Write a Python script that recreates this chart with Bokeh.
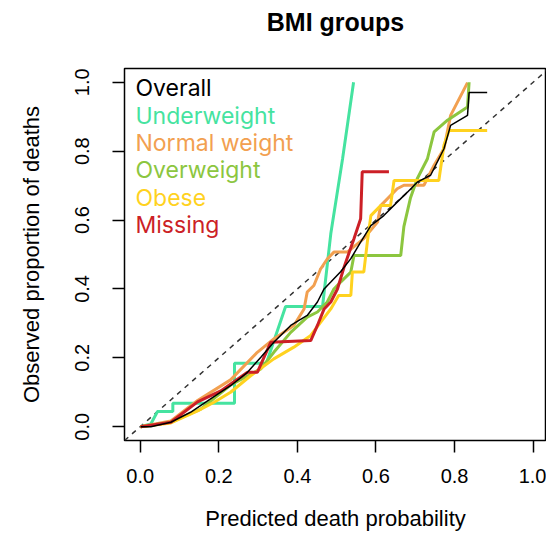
from bokeh.plotting import figure
from bokeh.models import Range1d, FixedTicker, Label, LinearAxis
from bokeh.embed import file_html
from bokeh.resources import INLINE

# ---- data (predicted probability, observed proportion) ----
groups = ["Overall", "Underweight", "Normal weight", "Overweight", "Obese", "Missing"]

overall_x = [0.001, 0.027, 0.078, 0.128, 0.179, 0.230, 0.273, 0.307, 0.340, 0.383, 0.425, 0.451,
             0.468, 0.485, 0.510, 0.536, 0.561, 0.587, 0.620, 0.654, 0.680, 0.705, 0.739, 0.773,
             0.790, 0.833, 0.837, 0.883]
overall_y = [0.000, 0.000, 0.013, 0.042, 0.081, 0.119, 0.158, 0.202, 0.245, 0.294, 0.323, 0.362,
             0.400, 0.420, 0.450, 0.488, 0.536, 0.584, 0.613, 0.652, 0.681, 0.710, 0.730, 0.807,
             0.875, 0.904, 0.970, 0.970]

under_x = [0.001, 0.027, 0.044, 0.083, 0.083, 0.240, 0.240, 0.321, 0.370, 0.464, 0.485, 0.515, 0.543]
under_y = [0.000, 0.008, 0.044, 0.044, 0.068, 0.068, 0.184, 0.184, 0.349, 0.349, 0.560, 0.778, 1.000]

normal_x = [0.001, 0.078, 0.146, 0.230, 0.298, 0.340, 0.391, 0.417, 0.425, 0.442, 0.459, 0.476,
            0.493, 0.527, 0.569, 0.604, 0.612, 0.654, 0.671, 0.722, 0.748, 0.773, 0.790, 0.833]
normal_y = [0.000, 0.017, 0.076, 0.136, 0.216, 0.255, 0.294, 0.342, 0.391, 0.410, 0.458, 0.487,
            0.507, 0.507, 0.546, 0.594, 0.642, 0.691, 0.701, 0.701, 0.759, 0.807, 0.904, 0.999]

over_x = [0.001, 0.078, 0.154, 0.230, 0.307, 0.340, 0.383, 0.425, 0.451, 0.476, 0.493, 0.510,
          0.536, 0.544, 0.663, 0.671, 0.688, 0.705, 0.731, 0.748, 0.782, 0.833, 0.837]
over_y = [0.000, 0.013, 0.051, 0.121, 0.168, 0.216, 0.274, 0.318, 0.333, 0.362, 0.400, 0.420,
          0.449, 0.497, 0.497, 0.581, 0.665, 0.720, 0.778, 0.856, 0.890, 0.928, 1.000]

obese_x = [0.001, 0.078, 0.146, 0.188, 0.230, 0.281, 0.340, 0.391, 0.434, 0.459, 0.485, 0.505,
           0.536, 0.540, 0.569, 0.578, 0.587, 0.612, 0.637, 0.646, 0.760, 0.773, 0.786, 0.883]
obese_y = [0.000, 0.011, 0.046, 0.071, 0.100, 0.148, 0.197, 0.231, 0.265, 0.303, 0.342, 0.381,
           0.381, 0.449, 0.449, 0.536, 0.613, 0.642, 0.642, 0.715, 0.715, 0.817, 0.860, 0.860]

missing_x = [0.001, 0.078, 0.146, 0.205, 0.273, 0.298, 0.332, 0.434, 0.451, 0.468, 0.485, 0.502,
             0.519, 0.544, 0.561, 0.565, 0.633]
missing_y = [0.000, 0.013, 0.072, 0.104, 0.158, 0.158, 0.245, 0.250, 0.294, 0.342, 0.362, 0.400,
             0.464, 0.546, 0.604, 0.740, 0.740]

ref_line = [-0.04, 1.04]
tick_values = [0.0, 0.2, 0.4, 0.6, 0.8, 1.0]
tick_labels = ["0.0", "0.2", "0.4", "0.6", "0.8", "1.0"]

# ---- styles ----
colors = {"Overall": "#000000", "Underweight": "#45E3A0", "Normal weight": "#F2A050",
          "Overweight": "#8CC63F", "Obese": "#FFD21F", "Missing": "#CC1F26"}
series = {"Overall": (overall_x, overall_y), "Underweight": (under_x, under_y),
          "Normal weight": (normal_x, normal_y), "Overweight": (over_x, over_y),
          "Obese": (obese_x, obese_y), "Missing": (missing_x, missing_y)}

FONT = "Liberation Sans"

p = figure(width=546, height=535, output_backend="svg", toolbar_location=None,
           x_range=Range1d(-0.04, 1.034), y_range=Range1d(-0.04, 1.04),
           min_border_left=124, min_border_right=0, min_border_top=68, min_border_bottom=95)

p.grid.visible = False
p.outline_line_color = "black"
p.outline_line_width = 1.5
p.background_fill_color = "white"
p.border_fill_color = "white"

for ax in (p.xaxis[0], p.yaxis[0]):
    ax.ticker = FixedTicker(ticks=tick_values)
    ax.major_label_overrides = dict(zip(tick_values, tick_labels))
    ax.axis_line_color = None
    ax.major_tick_line_color = "black"
    ax.major_tick_line_width = 1.5
    ax.major_tick_out = 12
    ax.major_tick_in = 0
    ax.minor_tick_line_color = None
    ax.major_label_text_font = FONT
    ax.major_label_text_font_size = "20px"
    ax.major_label_text_color = "black"
    ax.axis_label_text_font = FONT
    ax.axis_label_text_font_size = "22px"
    ax.axis_label_text_font_style = "normal"
    ax.axis_label_text_color = "black"

p.xaxis[0].axis_label = "Predicted death probability"
p.xaxis[0].major_label_standoff = 16
p.xaxis[0].axis_label_standoff = 20
p.yaxis[0].axis_label = "Observed proportion of deaths"
p.yaxis[0].major_label_orientation = "vertical"
p.yaxis[0].major_label_standoff = 23
p.yaxis[0].axis_label_standoff = 29

# chart title: carried by a tick-less axis above the box so it sits centred over it
title_axis = LinearAxis(ticker=FixedTicker(ticks=[]), axis_label="BMI groups",
                        axis_line_color=None, major_tick_out=0, major_tick_in=0,
                        minor_tick_out=0, minor_tick_in=0, major_label_standoff=0,
                        major_label_text_font_size="0px", axis_label_standoff=33,
                        axis_label_text_font=FONT, axis_label_text_font_size="25px",
                        axis_label_text_font_style="bold", axis_label_text_color="black")
p.add_layout(title_axis, "above")

p.line(ref_line, ref_line, line_color="#333333", line_width=1.5, line_dash="5 5")

for g in ["Underweight", "Normal weight", "Overweight", "Obese", "Missing"]:
    xs, ys = series[g]
    p.line(xs, ys, line_color=colors[g], line_width=3)
xs, ys = series["Overall"]
p.line(xs, ys, line_color=colors["Overall"], line_width=1.5)

for i, g in enumerate(groups):
    p.add_layout(Label(x=-0.012, y=0.982 - i * 0.0793, text=g, text_color=colors[g],
                       text_font="Inter", text_font_size="23px",
                       text_baseline="middle", text_align="left"))

open("out.html", "w").write(file_html(p, INLINE))
